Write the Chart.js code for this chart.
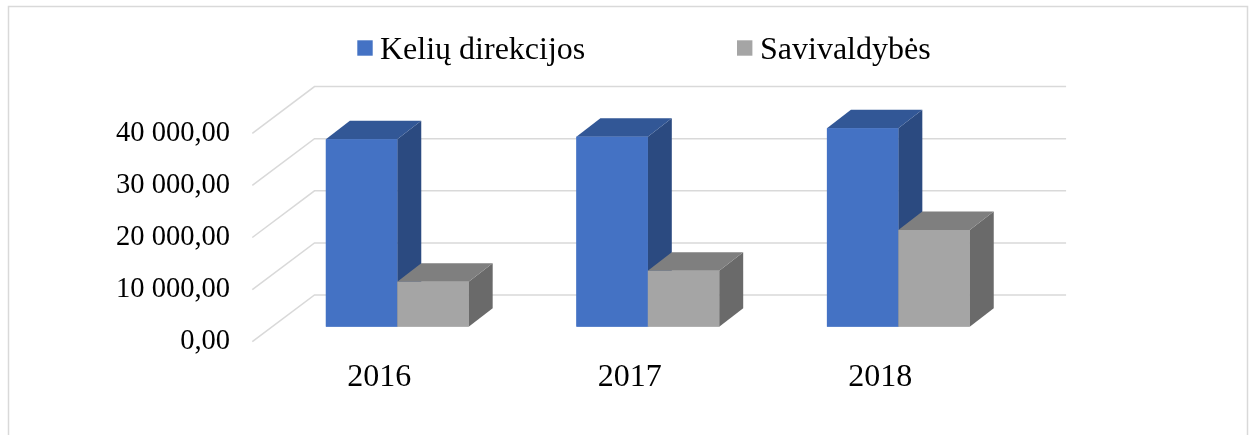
<!DOCTYPE html>
<html>
<head>
<meta charset="utf-8">
<script src="https://cdn.jsdelivr.net/npm/chart.js@4.4.1/dist/chart.umd.min.js"></script>
<style>
  html, body { margin: 0; padding: 0; background: #ffffff; }
  #wrap { position: relative; width: 1254px; height: 435px; }
</style>
</head>
<body>
<div id="wrap"><canvas id="grafikas"></canvas></div>
<script>
// duomenys
const metai = ['2016', '2017', '2018'];
const keliuDirekcijos = [35970, 36470, 38080];
const savivaldybes = [8640, 10750, 18560];
const yReiksmes = [0, 10000, 20000, 30000, 40000];
const serijuPavadinimai = ['Kelių direkcijos', 'Savivaldybės'];

// spalvos: priekis, virsus, sonas
const spalvos = [
    { priekis: '#4472c4', virsus: '#325796', sonas: '#2b4a80' },
    { priekis: '#a5a5a5', virsus: '#7f7f7f', sonas: '#6a6a6a' }
];

const sriftas = 'Liberation Serif, Times New Roman, serif';

// 3D poslinkiai
const stulpGylisX = 24, stulpGylisY = -18.5;   // stulpelio gylis
const priekisX = -19.7, priekisY = 15;         // priekine plokstuma
const galasX = 42.5, galasY = -31.7;           // galine siena

function formatuoti(v) {
    let s = Math.round(v).toString().replace(/\B(?=(\d{3})+(?!\d))/g, ' ');
    return s + ',00';
}

const tinklelis = {
    id: 'tinklelis',
    beforeDraw(chart) {
        const ctx = chart.ctx;
        ctx.save();
        ctx.fillStyle = '#ffffff';
        ctx.fillRect(0, 0, chart.width, chart.height);
        ctx.strokeStyle = '#d9d9d9';
        ctx.lineWidth = 1.5;
        ctx.strokeRect(8.5, 6.5, 1239, 440);
        ctx.restore();
    },
    beforeDatasetsDraw(chart) {
        const ctx = chart.ctx;
        const yScale = chart.scales.y;
        const area = chart.chartArea;
        ctx.save();
        ctx.strokeStyle = '#d9d9d9';
        ctx.lineWidth = 1.5;
        yReiksmes.forEach(function (v) {
            let yb = yScale.getPixelForValue(v);
            ctx.beginPath();
            ctx.moveTo(area.left + priekisX, yb + priekisY);
            ctx.lineTo(area.left + galasX, yb + galasY);
            ctx.lineTo(area.right + galasX, yb + galasY);
            ctx.stroke();
        });
        ctx.restore();
    },
    afterDatasetsDraw(chart) {
        const ctx = chart.ctx;
        ctx.save();
        for (let i = 0; i < metai.length; i++) {
            for (let d = 0; d < chart.data.datasets.length; d++) {
                let bar = chart.getDatasetMeta(d).data[i];
                let p = bar.getProps(['x', 'y', 'base', 'width'], true);
                let left = p.x - p.width / 2;
                let right = p.x + p.width / 2;
                let top = Math.min(p.y, p.base);
                let bottom = Math.max(p.y, p.base);
                let c = spalvos[d];

                // sonas
                ctx.fillStyle = c.sonas;
                ctx.beginPath();
                ctx.moveTo(right, top);
                ctx.lineTo(right + stulpGylisX, top + stulpGylisY);
                ctx.lineTo(right + stulpGylisX, bottom + stulpGylisY);
                ctx.lineTo(right, bottom);
                ctx.closePath();
                ctx.fill();

                // virsus
                ctx.fillStyle = c.virsus;
                ctx.beginPath();
                ctx.moveTo(left, top);
                ctx.lineTo(left + stulpGylisX, top + stulpGylisY);
                ctx.lineTo(right + stulpGylisX, top + stulpGylisY);
                ctx.lineTo(right, top);
                ctx.closePath();
                ctx.fill();

                // priekis (perpiesiam kad uzdengtu kaimyno sona)
                ctx.fillStyle = c.priekis;
                ctx.fillRect(left, top, right - left, bottom - top);
            }
        }
        ctx.restore();
    },
    afterDraw(chart) {
        // legenda
        const ctx = chart.ctx;
        const pozicijos = [{ kv: 357.3, tx: 380 }, { kv: 737, tx: 760 }];
        ctx.save();
        ctx.font = '32px ' + sriftas;
        ctx.textBaseline = 'alphabetic';
        ctx.textAlign = 'left';
        chart.data.datasets.forEach(function (ds, d) {
            ctx.fillStyle = spalvos[d].priekis;
            ctx.fillRect(pozicijos[d].kv, 40.3, 15.4, 15.4);
            ctx.fillStyle = '#000000';
            ctx.fillText(ds.label, pozicijos[d].tx, 58.5);
        });
        ctx.restore();
    }
};

const ctx = document.getElementById('grafikas');

const myChart = new Chart(ctx, {
    type: 'bar',
    data: {
        labels: metai,
        datasets: [{
            label: serijuPavadinimai[0],
            data: keliuDirekcijos,
            backgroundColor: spalvos[0].priekis,
            borderWidth: 0
        }, {
            label: serijuPavadinimai[1],
            data: savivaldybes,
            backgroundColor: spalvos[1].priekis,
            borderWidth: 0
        }]
    },
    options: {
        responsive: true,
        maintainAspectRatio: false,
        animation: false,
        datasets: {
            bar: {
                categoryPercentage: 0.57,
                barPercentage: 1.0
            }
        },
        layout: {
            padding: { left: 0, right: 230.4, top: 118.3, bottom: 0 }
        },
        scales: {
            x: {
                grid: { display: false, drawTicks: false },
                border: { display: false },
                ticks: {
                    color: '#000000',
                    padding: 32,
                    labelOffset: -18,
                    font: { family: sriftas, size: 32 }
                },
                afterFit: function (scale) { scale.height = 108.3; }
            },
            y: {
                min: 0,
                max: 40000,
                grid: { display: false, drawTicks: false },
                border: { display: false },
                ticks: {
                    stepSize: 10000,
                    color: '#000000',
                    padding: 42,
                    labelOffset: 15,
                    font: { family: sriftas, size: 28.5 },
                    callback: function (value) { return formatuoti(value); }
                },
                afterFit: function (scale) { scale.width = 272; }
            }
        },
        plugins: {
            legend: { display: false },
            tooltip: { enabled: false }
        }
    },
    plugins: [tinklelis]
});
</script>
</body>
</html>
